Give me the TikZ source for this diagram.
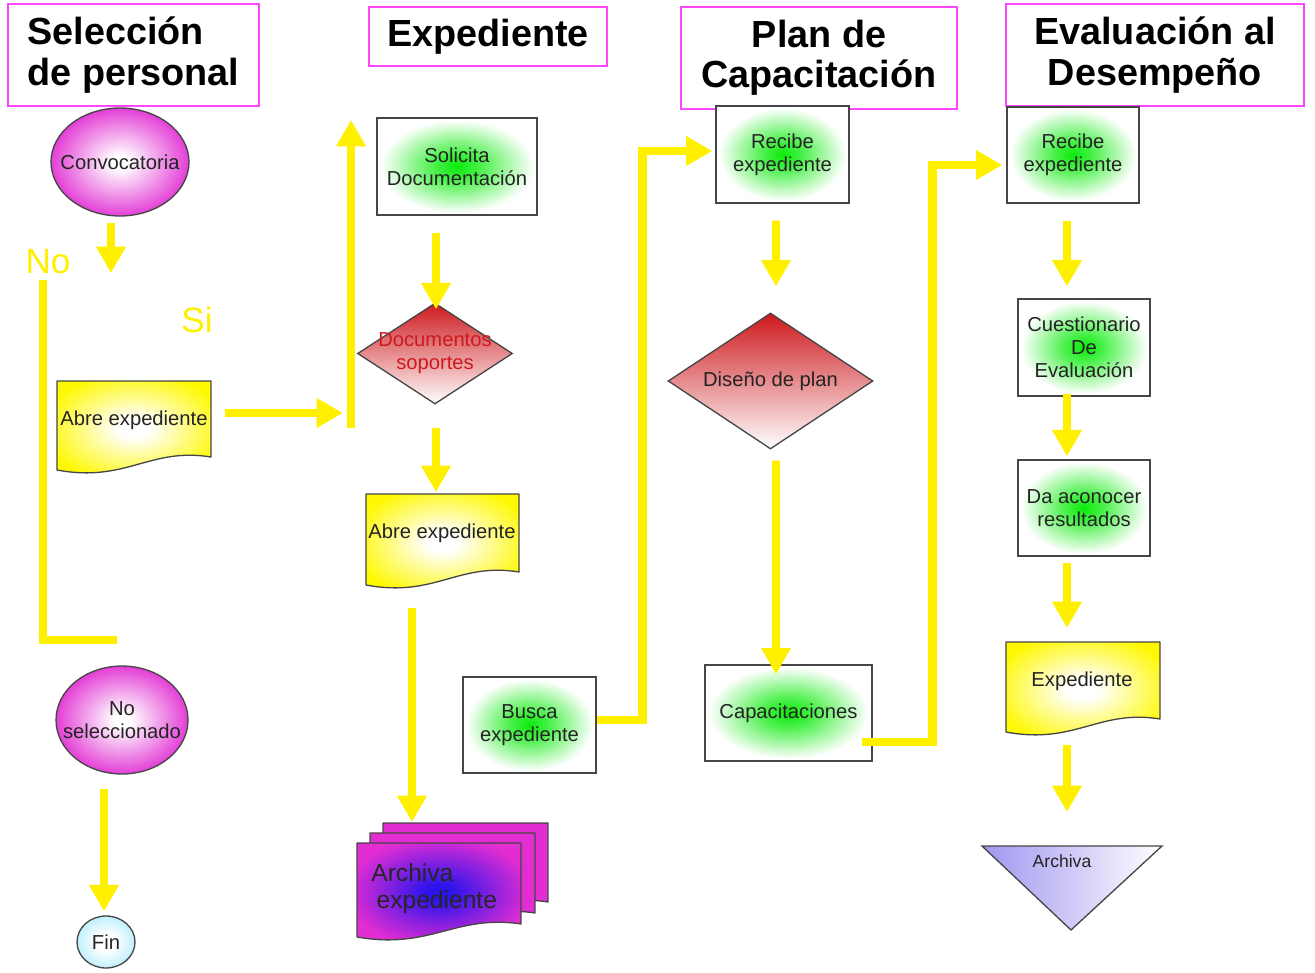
\documentclass[tikz,border=0pt]{standalone}
\usepackage{fontspec}
\setmainfont{Liberation Sans}
\usetikzlibrary{arrows.meta,shapes.geometric,calc}
\definecolor{ylw}{RGB}{255,240,0}
\definecolor{hdr}{RGB}{255,70,255}
\definecolor{magf}{RGB}{225,45,210}
\definecolor{grn}{RGB}{10,235,10}
\definecolor{dred}{RGB}{205,25,30}
\definecolor{txt}{RGB}{35,35,35}
\definecolor{lav}{RGB}{160,150,240}
\definecolor{cyl}{RGB}{150,230,250}
\definecolor{bdr}{RGB}{70,70,70}
\definecolor{yfill}{RGB}{255,248,0}
\definecolor{blu}{RGB}{45,20,235}
\pgfdeclareradialshading{greenglow}{\pgfpoint{0bp}{0bp}}{color(0bp)=(grn); color(7bp)=(grn!75!white); color(24bp)=(white); color(50bp)=(white)}
\pgfdeclareradialshading{magglow}{\pgfpoint{0bp}{0bp}}{color(0bp)=(white); color(3bp)=(white); color(27bp)=(magf); color(50bp)=(magf)}
\pgfdeclareradialshading{yglow}{\pgfpoint{0bp}{0bp}}{color(0bp)=(white); color(5bp)=(white); color(30bp)=(yfill); color(50bp)=(yfill)}
\pgfdeclareradialshading{blueglow}{\pgfpoint{0bp}{0bp}}{color(0bp)=(blu); color(4bp)=(blu); color(28bp)=(magf); color(50bp)=(magf)}
\pgfdeclareradialshading{cyanglow}{\pgfpoint{0bp}{0bp}}{color(0bp)=(white); color(8bp)=(white); color(36bp)=(cyl); color(50bp)=(cyl)}
\newcommand\DocShape[5]{%
 \pgfmathsetmacro\dsW{#4-#2}%
 \pgfmathsetmacro\dsA{#4-0.4*\dsW}%
 \pgfmathsetmacro\dsB{#2+0.45*\dsW}%
 \pgfmathsetmacro\dsWc{(#4-#2)*0.02}%
 \pgfmathsetmacro\dsHc{(#5-#3)*0.02}%
 \begin{scope}
 \clip (#2,#3) -- (#4,#3) -- (#4,#5-18) .. controls (\dsA,#5-28) and (\dsB,#5+8) .. (#2,#5-5) -- cycle;
 \node[#1,draw=none,inner sep=0,minimum width=\dsWc cm,minimum height=\dsHc cm] at ({(#2+#4)/2},{(#3+#5)/2}) {};
 \end{scope}
 \draw[draw=bdr,line width=0.75pt,line join=round] (#2,#3) -- (#4,#3) -- (#4,#5-18) .. controls (\dsA,#5-28) and (\dsB,#5+8) .. (#2,#5-5) -- cycle;}
\begin{document}
\begin{tikzpicture}[x=0.02cm,y=-0.02cm,
 ntext/.style={text=txt,font=\fontsize{11.5}{13}\selectfont,align=center,inner sep=0},
 hbox/.style={draw=hdr,line width=0.8pt,inner sep=0,font=\fontsize{21.5}{23}\selectfont\bfseries,align=center},
 gbox/.style={draw=bdr,line width=0.75pt,shading=greenglow,inner sep=0,align=center,text=txt,font=\fontsize{11.5}{13}\selectfont},
 magell/.style={ellipse,draw=bdr,line width=0.75pt,shading=magglow,inner sep=0},
 diam/.style={diamond,draw=bdr,line width=0.75pt,top color=dred,bottom color=white,inner sep=0},
 arr/.style={draw=ylw,line width=4.8pt,-{Triangle[width=16pt,length=15pt]}},
 yline/.style={draw=ylw,line width=4.8pt},
 ylab/.style={text=ylw,font=\fontsize{20}{22}\selectfont,inner sep=0}]
\useasboundingbox (0,0) rectangle (1315,973);
\fill[white] (0,0) rectangle (1315,973);

% headers
\node[hbox,minimum width=5.02cm,minimum height=2.04cm,align=left] (h1) at (133.5,55) {Selección\\de personal};
\node[hbox,minimum width=4.76cm,minimum height=1.18cm] (h2) at (488,36.5) {Expediente};
\node[hbox,minimum width=5.52cm,minimum height=2.04cm] (h3) at (819,58) {Plan de\\Capacitación};
\node[hbox,minimum width=5.96cm,minimum height=2.04cm] (h4) at (1155,55) {Evaluación al\\Desempeño};

% column 1
\node[magell,minimum width=2.76cm,minimum height=2.16cm,label={[ntext]center:Convocatoria}] (conv) at (120,162) {};
\node[ylab] (nolab) at (48,262) {No};
\node[ylab] (silab) at (197,320) {Si};
\DocShape{shading=yglow}{57}{381}{211}{475}
\node[ntext] (abre1) at (134,420) {Abre expediente};
\node[magell,minimum width=2.64cm,minimum height=2.16cm,label={[ntext]center:{No\\seleccionado}}] (nosel) at (122,720) {};
\node[ellipse,draw=bdr,line width=0.75pt,shading=cyanglow,inner sep=0,minimum width=1.16cm,minimum height=1.04cm,label={[ntext]center:Fin}] (fin) at (106,942) {};

% column 2
\node[gbox,minimum width=3.2cm,minimum height=1.94cm] (sol) at (457,166.5) {Solicita\\Documentación};
\node[diam,minimum width=3.1cm,minimum height=2.02cm,label={[ntext,text=dred]center:{Documentos\\soportes}}] (docs) at (435,353.5) {};
\DocShape{shading=yglow}{366}{494}{519}{590}
\node[ntext] (abre2) at (442,533) {Abre expediente};
\DocShape{fill=magf}{383}{823}{548}{920}
\DocShape{fill=magf}{370}{833}{535}{931}
\DocShape{shading=blueglow}{357}{843}{521}{942}
\node[ntext,text=black!85,font=\fontsize{14}{15.5}\selectfont,align=left,anchor=west] (archexp) at (371,889) {Archiva\\\hspace*{3pt}expediente};
\node[gbox,minimum width=2.66cm,minimum height=1.92cm] (busca) at (529.5,725) {Busca\\expediente};

% column 3
\node[gbox,minimum width=2.66cm,minimum height=1.94cm] (rec1) at (782.5,154.5) {Recibe\\expediente};
\node[diam,minimum width=4.1cm,minimum height=2.72cm,label={[ntext]center:Diseño de plan}] (dis) at (770.5,381) {};
\node[gbox,minimum width=3.34cm,minimum height=1.92cm] (cap) at (788.5,713) {Capacitaciones};

% column 4
\node[gbox,minimum width=2.64cm,minimum height=1.92cm] (rec2) at (1073,155) {Recibe\\expediente};
\node[gbox,minimum width=2.64cm,minimum height=1.94cm] (cuest) at (1084,347.5) {Cuestionario\\De\\Evaluación};
\node[gbox,minimum width=2.64cm,minimum height=1.92cm] (da) at (1084,508) {Da aconocer\\resultados};
\DocShape{shading=yglow}{1006}{642}{1160}{737}
\node[ntext] (expd) at (1082,681) {Expediente};
\path[draw=bdr,line width=0.75pt,left color=lav,right color=white] (982,846) -- (1162,846) -- (1071,930) -- cycle;
\node[ntext,font=\fontsize{10}{12}\selectfont] (archtri) at (1062,861) {Archiva};

% free coordinates
\coordinate (c1e) at (111,273);
\coordinate (nos) at (43,280);
\coordinate (noe) at (117,640);
\coordinate (ab1s) at (225,413);
\coordinate (ab1e) at (343,413);
\coordinate (ups) at (351,428);
\coordinate (upe) at (351,120);
\coordinate (c6e) at (436,492);
\coordinate (c7s) at (412,608);
\coordinate (c7e) at (412,822);
\coordinate (c14e) at (1067,628);
\coordinate (c15s) at (1067,745);
\coordinate (c15e) at (1067,812);

% connectors
\draw[arr] ($(conv.south)+(-9,6)$) -- (c1e);
\draw[yline] (nos) |- (noe);
\draw[arr] (ab1s) -- (ab1e);
\draw[arr] (ups) -- (upe);
\draw[arr] ($(nosel.south)+(-18,14)$) -- ($(fin.north)+(-2,-4)$);
\draw[arr] ($(sol.south)+(-21,17)$) -- ($(docs.north)+(1,7)$);
\draw[arr] ($(docs.south)+(1,23)$) -- (c6e);
\draw[arr] (c7s) -- (c7e);
\draw[arr] ($(busca.east)+(0,-5)$) -| ($(rec1.west)+(-73,-3.5)$) -- ($(rec1.west)+(-3,-3.5)$);
\draw[arr] ($(rec1.south)+(-6.5,17)$) -- ($(dis.north)+(5.5,-26)$);
\draw[arr] ($(dis.south)+(5.5,11)$) -- ($(cap.north)+(-12.5,10)$);
\draw[arr] ($(cap.east)+(-11,29)$) -| ($(rec2.west)+(-74,10)$) -- ($(rec2.west)+(-4,10)$);
\draw[arr] ($(rec2.south)+(-6,17)$) -- ($(cuest.north)+(-17,-12)$);
\draw[arr] ($(cuest.south)+(-17,-3)$) -- ($(da.north)+(-17,-3)$);
\draw[arr] ($(da.south)+(-17,6)$) -- (c14e);
\draw[arr] (c15s) -- (c15e);
\end{tikzpicture}
\end{document}
